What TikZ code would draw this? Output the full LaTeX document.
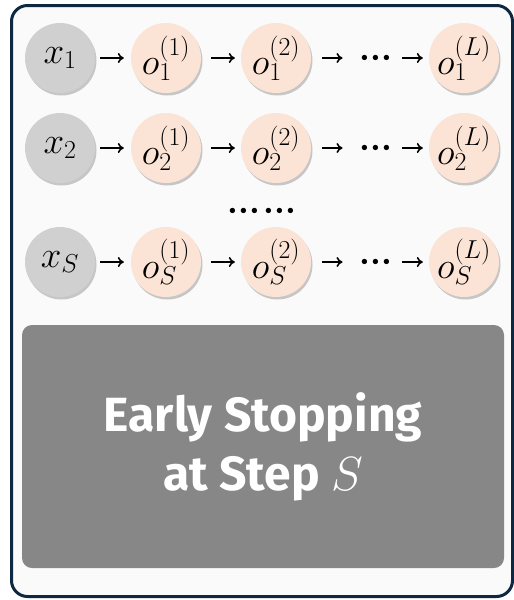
\RequirePackage{fix-cm}
\documentclass[tikz,border=0pt]{standalone}
\usepackage{fontspec}
\setsansfont{Fira Sans}
\usetikzlibrary{shadows,arrows.meta}
\definecolor{frame}{HTML}{0E2841}
\definecolor{panel}{HTML}{FAFAFA}
\definecolor{xfill}{HTML}{D0D0D0}
\definecolor{ofill}{HTML}{FBE3D6}
\definecolor{boxfill}{HTML}{878787}
\newcommand{\mydots}{\mathord{\cdot}\mathord{\cdot}\mathord{\cdot}}
\begin{document}
\begin{tikzpicture}[x=1pt,y=-1pt,
  state/.style={circle,minimum size=70pt,inner sep=0pt,font=\fontsize{37}{40}\selectfont,
    drop shadow={shadow xshift=1.5pt,shadow yshift=-2.5pt,opacity=.35,fill=black!60}},
  xnode/.style={state,fill=xfill},
  onode/.style={state,fill=ofill},
  arr/.style={-{To[length=6pt,width=10pt]},line width=1.6pt},
  dotsnode/.style={inner sep=0pt,font=\fontsize{34}{36}\selectfont\boldmath}]
\useasboundingbox (0,0) rectangle (514,600);
\draw[frame,line width=3pt,fill=panel,rounded corners=16pt] (11.5,5.5) rectangle (512.5,596.5);
\foreach \r/\y/\s in {1/58/1,2/148/2,3/262/S}{
  \node[xnode] (x\r) at (60,\y) {$x_{\s}$};
  \node[onode] (a\r) at (166,\y) {$o_{\s}^{(1)}$};
  \node[onode] (b\r) at (276,\y) {$o_{\s}^{(2)}$};
  \node[dotsnode] (d\r) at (376,\y) {$\mydots$};
  \node[onode] (c\r) at (464,\y) {$o_{\s}^{(L)}$};
  \draw[arr,shorten <=5pt,shorten >=7pt] (x\r) -- (a\r);
  \draw[arr,shorten <=10pt,shorten >=6pt] (a\r) -- (b\r);
  \draw[arr,shorten <=11pt,shorten >=17pt] (b\r) -- (d\r);
  \draw[arr,shorten <=10pt,shorten >=6pt] (d\r) -- (c\r);
}
\node[dotsnode,anchor=base] (vd) at (262,219) {$\mydots\hspace{3pt}\mydots$};
\node[fill=boxfill,rounded corners=10pt,minimum width=482pt,minimum height=243pt,
  text=white,align=center,font=\sffamily\bfseries\fontsize{48}{59}\selectfont]
  (stop) at (263,446.5) {Early Stopping\\at Step $S$};
\end{tikzpicture}
\end{document}
